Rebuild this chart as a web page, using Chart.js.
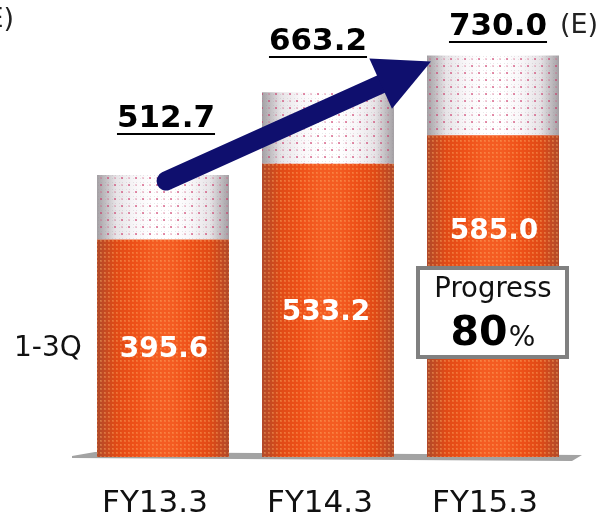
<!DOCTYPE html>
<html>
<head>
<meta charset="utf-8">
<style>
  html, body { margin: 0; padding: 0; background: #fff; overflow: hidden; }
  canvas { display: block; }
</style>
<script src="https://cdn.jsdelivr.net/npm/chart.js@4"></script>
</head>
<body>
<canvas id="grafico" width="603" height="516"></canvas>
<script>
const categories = ["FY13.3", "FY14.3", "FY15.3"];
const q1to3 = [395.6, 533.2, 585.0];
const fullYear = [512.7, 663.2, 730.0];
const rest = [117.1, 130.0, 145.0];
const rowLabel = "1-3Q";
const estimateMark = "(E)";
const progressTitle = "Progress";
const progressValue = "80";

const FONT = '"DejaVu Sans", Verdana, sans-serif';

// small repeating tiles for the dotted look of the cylinders
function orangeTile() {
  const c = document.createElement("canvas");
  c.width = 4; c.height = 4;
  const g = c.getContext("2d");
  g.fillStyle = "rgba(255,170,100,0.32)";
  g.fillRect(0, 0, 2, 2);
  g.fillStyle = "rgba(255,215,150,0.15)";
  g.fillRect(0, 0, 1, 1);
  return c;
}
function whiteTile() {
  const c = document.createElement("canvas");
  c.width = 14; c.height = 14;
  const g = c.getContext("2d");
  g.fillStyle = "rgba(150,140,150,0.2)";
  for (let x = 0; x < 14; x += 3.5) {
    for (let y = 0; y < 14; y += 3.5) g.fillRect(Math.floor(x), Math.floor(y), 1, 1);
  }
  g.fillStyle = "rgba(205,50,100,0.55)";
  g.fillRect(2, 2, 2, 2);
  g.fillRect(9, 9, 2, 2);
  g.fillStyle = "rgba(215,90,130,0.3)";
  g.fillRect(9, 2, 2, 2);
  g.fillRect(2, 9, 2, 2);
  return c;
}

function cylinder(context, stops) {
  const chart = context.chart;
  const sx = chart.scales.x;
  if (!sx) return stops[3];
  const cx = sx.getPixelForValue(context.dataIndex);
  const half = sx.width / categories.length * 0.4;
  if (!Number.isFinite(cx) || !Number.isFinite(half)) return stops[3];
  const grad = chart.ctx.createLinearGradient(cx - half, 0, cx + half, 0);
  const n = stops.length - 1;
  stops.forEach((s, i) => grad.addColorStop(i / n, s));
  return grad;
}

const orangeStops = ["#b04a2a", "#e04a16", "#ee5018", "#f45c22", "#f45c22", "#ee5018", "#e04a16", "#b04a2a"];
const whiteStops = ["#a4a0a4", "#e6e3e6", "#f8f6f8", "#ffffff", "#ffffff", "#f8f6f8", "#e6e3e6", "#a4a0a4"];

function text(g, s, x, y, font, color, align) {
  g.font = font;
  g.fillStyle = color;
  g.textAlign = align || "center";
  g.textBaseline = "middle";
  g.fillText(s, x, y);
}

const decoracion = {
  id: "decoracion",
  beforeDatasetsDraw(chart) {
    // grey floor plate under the bars
    const g = chart.ctx;
    const b = chart.scales.y.getPixelForValue(0);
    g.save();
    g.fillStyle = "#a3a3a3";
    g.beginPath();
    g.moveTo(72, b - 1);
    g.lineTo(95, b - 5);
    g.lineTo(582, b - 2);
    g.lineTo(572, b + 4);
    g.lineTo(72, b + 1);
    g.closePath();
    g.fill();
    g.restore();
  },
  afterDatasetDraw(chart, args) {
    const g = chart.ctx;
    const tile = args.index === 0 ? orangeTile() : whiteTile();
    const pat = g.createPattern(tile, "repeat");
    g.save();
    g.fillStyle = pat;
    chart.getDatasetMeta(args.index).data.forEach(el => {
      g.fillRect(el.x - el.width / 2, el.y, el.width, el.base - el.y);
    });
    g.restore();
  },
  afterDraw(chart) {
    const g = chart.ctx;
    const low = chart.getDatasetMeta(0).data;
    const top = chart.getDatasetMeta(1).data;
    g.save();

    // arrow from the first bar to the last one
    const x0 = top[0].x + 3;
    const y0 = top[0].y + 6;
    const x1 = top[2].x - top[2].width / 2 + 4;
    const y1 = top[2].y + 6;
    const ang = Math.atan2(y1 - y0, x1 - x0);
    const len = Math.hypot(x1 - x0, y1 - y0);
    g.translate(x0, y0);
    g.rotate(ang);
    g.fillStyle = "#0f0f6e";
    g.strokeStyle = "#0f0f6e";
    g.lineWidth = 19;
    g.lineCap = "round";
    g.beginPath();
    g.moveTo(0, 0);
    g.lineTo(len - 50, 0);
    g.stroke();
    g.beginPath();
    g.moveTo(len, 0);
    g.lineTo(len - 55, -28);
    g.lineTo(len - 55, 27);
    g.closePath();
    g.fill();
    g.setTransform(1, 0, 0, 1, 0, 0);

    // totals, bold and underlined
    top.forEach((el, i) => {
      const s = fullYear[i].toFixed(1);
      const yy = [119, 42, 27][i];
      const xx = el.x + [3, -10, 5][i];
      text(g, s, xx, yy, "bold 31px " + FONT, "#000");
      const w = g.measureText(s).width;
      g.fillStyle = "#000";
      g.fillRect(xx - w / 2, yy + 14, w, 2);
    });

    // first three quarters, white on the orange
    low.forEach((el, i) => {
      text(g, q1to3[i].toFixed(1), el.x + [1, -2, 1][i], [350, 313, 232][i], "bold 28px " + FONT, "#fff");
    });

    text(g, rowLabel, 14, 349, "28px " + FONT, "#111", "left");
    text(g, estimateMark, 560, 26, "27px " + FONT, "#222", "left");
    text(g, estimateMark, -24, 20, "27px " + FONT, "#222", "left");

    // progress box
    g.fillStyle = "#fff";
    g.strokeStyle = "#808080";
    g.lineWidth = 4;
    g.fillRect(418, 268, 149, 89);
    g.strokeRect(418, 268, 149, 89);
    text(g, progressTitle, 493, 290, "27.5px " + FONT, "#111");
    text(g, progressValue, 479, 334, "bold 41px " + FONT, "#000");
    text(g, "%", 522, 339, "28px " + FONT, "#111");
    g.restore();
  }
};

new Chart(document.getElementById("grafico").getContext("2d"), {
  type: "bar",
  data: {
    labels: categories,
    datasets: [
      {
        label: rowLabel,
        data: q1to3,
        backgroundColor: c => cylinder(c, orangeStops),
        stack: "a"
      },
      {
        label: "4Q",
        data: rest,
        backgroundColor: c => cylinder(c, whiteStops),
        stack: "a"
      }
    ]
  },
  options: {
    responsive: false,
    animation: false,
    layout: { padding: { left: 80.5, right: 27.5, top: 17, bottom: 0 } },
    datasets: { bar: { barPercentage: 0.8, categoryPercentage: 1 } },
    plugins: { legend: { display: false }, title: { display: false }, tooltip: { enabled: false } },
    scales: {
      x: {
        stacked: true,
        grid: { display: false },
        border: { display: false },
        afterFit: s => { s.height = 59; },
        ticks: {
          padding: 20,
          labelOffset: -8,
          maxRotation: 0,
          color: "#111",
          font: { family: FONT, size: 31 }
        }
      },
      y: {
        stacked: true,
        display: false,
        min: 0,
        max: 800
      }
    }
  },
  plugins: [decoracion]
});
</script>
</body>
</html>
